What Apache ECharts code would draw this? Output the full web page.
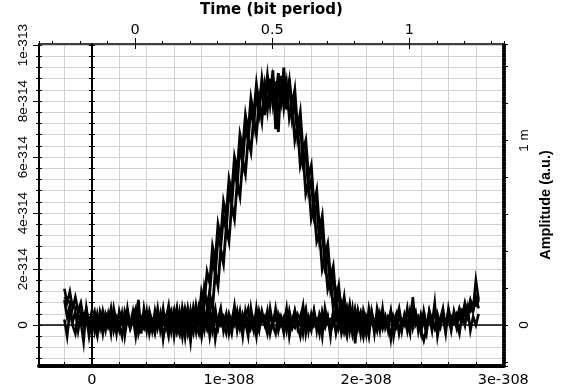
<!DOCTYPE html>
<html><head><meta charset="utf-8">
<script src="https://cdn.jsdelivr.net/npm/echarts@6/dist/echarts.min.js"></script>
<style>html,body{margin:0;padding:0;background:#fff}#c{width:561px;height:389px}</style>
</head><body><div id="c"></div>
<script>
// Sample time base (bottom axis units of 1e-308)
const baseStart = -0.2;
const pulseStart = 0.56;
const sampleStep = 0.02;

// Amplitude traces in units of 1e-314 (left axis)
const zeroTrace1 = [
 1.3,0.8,1.2,0.6,1.0,0.5,0.8,0.2,0.6,0.0,
 0.5,-0.2,0.4,-0.1,0.5,0.0,0.3,-0.3,0.6,0.1,
 -0.2,0.4,-0.4,0.3,0.0,0.5,-0.1,0.9,-0.3,0.6,
 0.0,0.3,-0.2,0.5,-0.1,0.4,-0.5,0.2,0.7,-0.1,
 0.3,-0.2,0.5,0.0,0.4,-0.3,0.2,0.6,-0.1,0.3,
 -0.4,0.4,0.1,0.6,-0.2,0.3,-0.1,0.5,0.0,-0.3,
 0.4,0.1,0.7,-0.2,0.3,-0.4,0.5,0.0,0.2,-0.2,
 0.6,-0.1,0.3,0.0,0.5,-0.3,0.2,0.4,-0.2,0.3,
 0.0,0.6,-0.4,0.2,0.5,-0.1,0.3,-0.3,0.4,0.1,
 -0.2,0.5,0.0,0.3,-0.4,0.6,0.1,-0.1,0.4,-0.3,
 0.2,0.5,-0.2,0.3,0.0,0.6,-0.3,0.2,-0.1,0.4,
 0.1,-0.4,0.5,0.0,0.3,-0.2,0.6,-0.1,0.2,-0.5,
 0.3,0.0,0.5,-0.2,0.4,0.1,-0.3,1.0,0.0,0.2,
 -0.2,-0.55,-0.1,0.5,0.0,0.8,-0.4,0.2,0.6,-0.1,
 0.3,-0.2,0.5,0.1,-0.3,0.4,0.0,0.6,-0.2,0.3,
 0.0,0.4
];
const zeroTrace2 = [
 0.2,-0.4,0.5,0.0,-0.3,0.4,0.1,-0.6,0.6,-0.1,
 0.3,0.0,-0.4,0.5,0.2,-0.2,0.4,-0.1,0.3,-0.3,
 0.5,0.1,-0.2,0.6,0.0,0.3,-0.4,0.4,0.1,-0.1,
 0.5,-0.3,0.2,0.0,0.6,-0.2,0.3,0.1,-0.4,0.4,
 0.0,0.5,-0.2,0.2,-0.1,0.6,0.0,-0.3,0.4,0.1,
 0.3,-0.2,0.5,-0.4,0.2,0.6,-0.1,0.3,0.0,0.4,
 -0.3,0.2,0.0,0.5,-0.1,0.4,0.1,-0.4,0.6,0.0,
 0.2,-0.2,0.5,0.1,-0.3,0.4,0.0,0.6,-0.1,0.2,
 -0.3,0.4,0.1,-0.1,0.5,0.0,-0.4,0.3,0.6,-0.2,
 0.4,0.0,0.2,-0.3,0.5,0.1,0.3,-0.2,0.0,0.6,
 -0.1,0.3,0.0,-0.4,0.4,0.2,-0.2,0.5,0.0,0.3,
 -0.3,0.6,0.1,0.2,-0.2,0.4,-0.1,0.3,0.0,0.5,
 -0.4,0.2,0.6,0.0,0.3,-0.2,0.5,-0.1,0.4,0.1,
 -0.3,0.5,0.0,0.3,-0.2,0.6,0.1,-0.1,0.4,0.0,
 0.5,-0.1,0.4,0.2,0.6,0.3,0.8,0.4,0.9,0.6,
 1.6,0.9
];
const zeroTrace3 = [
 0.9,0.3,0.7,0.1,0.5,-0.2,0.4,0.0,0.3,-0.4,
 0.2,0.5,-0.1,0.3,-0.3,0.4,0.1,0.6,-0.2,0.2,
 0.0,-0.4,0.5,0.2,-0.1,0.3,0.6,-0.3,0.1,0.4,
 -0.2,0.5,0.1,-0.3,0.3,0.0,0.6,-0.1,0.2,0.5,
 -0.4,0.3,0.1,-0.1,0.6,0.2,-0.6,0.4,0.0,-0.3,
 0.5,0.0,0.3,-0.1,0.4,-0.5,0.2,0.6,-0.2,0.3,
 0.1,-0.3,0.4,0.0,0.5,-0.2,0.3,0.6,-0.1,0.2,
 -0.4,0.5,0.1,0.3,-0.2,0.6,0.0,-0.3,0.4,0.1,
 0.3,-0.2,0.5,0.0,-0.1,0.4,0.2,0.7,-0.3,0.3,
 0.0,0.5,-0.2,0.4,0.1,-0.1,0.3,-0.4,0.5,0.2,
 0.4,-0.3,0.1,0.6,0.0,0.3,-0.65,0.5,0.1,-0.4,
 0.3,0.0,0.4,-0.3,0.6,0.2,-0.1,0.3,-0.2,0.5,
 0.1,0.4,-0.3,0.2,0.0,0.6,-0.1,0.3,0.5,-0.2,
 0.4,0.1,-0.3,0.5,0.2,-0.1,0.4,0.0,0.3,-0.3,
 0.6,0.1,0.3,-0.1,0.5,0.2,0.7,0.3,0.8,0.5,
 1.0,0.6
];
const zeroTrace4 = [
 1.0,0.9,0.8,0.7,0.6,0.55,0.45,0.4,0.3,0.25,
 0.2,0.3,0.0,0.25,0.1,0.35,-0.05,0.2,0.15,0.3,
 0.0,0.25,0.1,0.35,-0.1,0.2,0.3,0.05,0.25,-0.05,
 0.3,0.1,0.2,0.0,0.35,0.15,0.05,0.3,-0.1,0.2,
 0.25,0.0,0.3,0.1,0.2,-0.05,0.35,0.15,0.0,0.25,
 0.1,0.3,-0.1,0.2,0.05,0.35,0.15,0.0,0.3,0.1,
 0.2,-0.05,0.3,0.1,0.25,0.0,0.35,0.1,0.2,0.05,
 0.3,0.0,0.25,0.15,-0.1,0.3,0.1,0.2,0.35,0.0,
 0.2,0.1,0.3,-0.05,0.25,0.15,0.0,0.3,0.1,0.2,
 0.35,0.0,0.15,0.25,-0.1,0.3,0.1,0.2,0.05,0.3,
 0.0,0.25,0.15,0.35,-0.05,0.2,0.1,0.3,0.0,0.2,
 0.3,0.05,0.25,-0.1,0.2,0.35,0.1,0.0,0.3,0.15,
 0.2,-0.05,0.3,0.1,0.25,0.0,0.35,0.15,0.05,0.3,
 0.1,0.2,0.0,0.3,0.15,-0.1,0.25,0.1,0.35,0.05,
 0.2,0.3,0.1,0.4,0.25,0.5,0.35,0.6,0.5,0.75,
 0.7,0.9
];
const oneTrace1 = [
 0.5,-0.2,0.4,0.0,-0.3,0.6,0.1,-0.2,0.5,-0.1,
 0.7,0.2,1.2,0.8,1.9,1.5,2.8,2.3,3.6,3.1,
 4.4,3.9,5.2,4.7,6.0,5.5,6.8,6.3,7.5,6.9,
 8.1,7.5,8.6,7.8,8.8,8.0,8.9,7.9,8.8,8.1,
 9.0,7.8,8.7,8.0,8.7,7.4,8.0,6.7,7.2,5.8,
 6.2,4.8,5.2,3.9,4.3,3.0,3.4,2.1,2.5,1.3,
 1.8,0.7,1.2,0.2,0.8,-0.1,0.6,-0.2,0.5,0.0,
 0.4,-0.3,0.3
];
const oneTrace2 = [
 -0.3,0.4,0.1,0.6,-0.2,0.3,-0.4,0.5,0.0,0.4,
 -0.2,0.6,0.1,1.3,0.7,1.2,2.4,1.8,3.1,2.8,
 3.9,3.4,4.8,4.3,5.6,5.0,6.4,5.8,7.1,6.6,
 7.8,7.1,8.3,7.6,8.7,7.5,8.9,8.1,9.1,7.0,
 8.6,8.0,9.2,7.7,8.8,7.8,8.4,7.0,7.6,6.2,
 6.6,5.3,5.7,4.3,4.8,3.4,3.9,2.5,2.9,1.7,
 2.1,0.9,1.4,0.4,1.0,0.1,0.7,-0.2,0.5,-0.1,
 0.4,0.0,-0.3
];
const oneTrace3 = [
 0.3,0.0,0.5,-0.2,0.2,-0.4,0.4,0.1,-0.1,0.6,
 0.0,0.3,-0.3,0.5,0.0,1.1,0.6,1.9,1.4,2.7,
 2.2,3.5,3.0,4.3,3.8,5.1,4.6,5.9,5.4,6.7,
 6.2,7.4,6.8,8.0,7.3,8.5,7.7,8.8,7.9,8.7,
 6.9,8.9,7.8,8.6,7.4,7.9,6.6,7.1,5.7,6.1,
 4.7,5.1,3.8,4.2,3.0,3.3,2.0,2.4,1.3,1.7,
 0.6,1.1,0.2,0.7,-0.1,0.5,-0.2,0.4,0.0,0.3,
 -0.3,0.5,0.1
];

// Tick labels
const bottomTickValues = [0, 1, 2, 3];
const bottomTickLabels = ['0', '1e-308', '2e-308', '3e-308'];
const topTickValues = [0, 0.5, 1];
const topTickLabels = ['0', '0.5', '1'];
const leftTickValues = [0, 2, 4, 6, 8, 10];
const leftTickLabels = ['0', '2e-314', '4e-314', '6e-314', '8e-314', '1e-313'];
const rightTickValues = [0, 1];
const rightTickLabels = ['0', '1 m'];

// Axis ranges
const xRange = [-0.385, 3.005];     // 1e-308
const tRange = [-0.35, 1.345];      // bit period
const yRange = [-1.46, 10.04];      // 1e-314
const rRange = [-0.222, 1.523];     // m (a.u.)
const leftMinorStep = 0.4;

function stepsWithin(range, step) {
  const out = [];
  for (let k = Math.ceil(range[0] / step - 1e-9); k * step <= range[1] + 1e-9; k++) {
    out.push(Math.round(k * step * 10000) / 10000);
  }
  return out;
}
const leftMinorTicks = stepsWithin(yRange, leftMinorStep);

function toPairs(arr, start) {
  return arr.map((v, i) => [Math.round((start + i * sampleStep) * 1000) / 1000, v]);
}
function lookup(values, labels) {
  return function (v) { const i = values.indexOf(v); return i >= 0 ? labels[i] : ''; };
}

const H_FONT = 'DejaVu Sans';
const V_FONT = 'Liberation Sans';
const GRID_COLOR = '#d2d2d2';
const off = { show: false };

function helper(base, extra) {
  return Object.assign({
    axisLine: off, axisLabel: off, splitLine: off, axisTick: off, minorTick: off, silent: true
  }, base, extra);
}

const xBase = { type: 'value', min: xRange[0], max: xRange[1], gridIndex: 0 };
const tBase = { type: 'value', min: tRange[0], max: tRange[1], gridIndex: 0 };
const yBase = { type: 'value', min: yRange[0], max: yRange[1], gridIndex: 0 };
const rBase = { type: 'value', min: rRange[0], max: rRange[1], gridIndex: 0 };

const xAxes = [
  // bottom ruler (dense fine ticks drawn as a dashed thick line)
  helper(xBase, { position: 'bottom',
    axisLine: { show: true, onZero: false, lineStyle: { color: '#000', width: 4, type: [1, 1.74] } } }),
  // bottom main axis
  Object.assign({}, xBase, {
    position: 'bottom', splitNumber: 17,
    axisLine: { show: true, onZero: false, lineStyle: { color: '#000', width: 2 } },
    axisTick: { show: true, inside: true, length: 4, lineStyle: { color: '#000', width: 1 } },
    splitLine: { show: true, lineStyle: { color: GRID_COLOR, width: 1 } },
    axisLabel: { show: true, customValues: bottomTickValues, formatter: lookup(bottomTickValues, bottomTickLabels),
      fontFamily: H_FONT, fontSize: 14.5, color: '#000', margin: 7 }
  }),
  // top main axis (bit period)
  Object.assign({}, tBase, {
    position: 'top', splitNumber: 17,
    name: 'Time (bit period)', nameLocation: 'middle', nameGap: 21,
    nameTextStyle: { fontFamily: H_FONT, fontWeight: 'bold', fontSize: 15, color: '#000' },
    axisLine: { show: true, onZero: false, lineStyle: { color: '#000', width: 1.5 } },
    axisTick: { show: true, length: 3, lineStyle: { color: '#000', width: 1 } },
    splitLine: off,
    axisLabel: { show: true, customValues: topTickValues, formatter: lookup(topTickValues, topTickLabels),
      fontFamily: H_FONT, fontSize: 14.5, color: '#000', margin: 6 }
  }),
  helper(tBase, { position: 'top', axisLine: { show: false, onZero: false },
    axisTick: { show: true, inside: true, length: 5, customValues: topTickValues, lineStyle: { color: '#000', width: 1 } } }),
  helper(tBase, { position: 'top', axisLine: { show: false, onZero: false },
    axisTick: { show: true, length: 6, customValues: topTickValues, lineStyle: { color: '#000', width: 1 } } }),
  // horizontal zero line
  helper(xBase, { position: 'bottom',
    axisLine: { show: true, onZero: true, onZeroAxisIndex: 1, lineStyle: { color: '#000', width: 1.5 } } })
];

const yAxes = [
  // left main
  Object.assign({}, yBase, {
    position: 'left',
    axisLine: { show: true, onZero: false, lineStyle: { color: '#000', width: 2 } },
    axisTick: { show: true, length: 6, customValues: leftTickValues, lineStyle: { color: '#000', width: 1 } },
    splitLine: off,
    axisLabel: { show: true, customValues: leftTickValues, formatter: lookup(leftTickValues, leftTickLabels),
      rotate: 90, fontFamily: V_FONT, fontSize: 13.5, color: '#000', margin: 9 }
  }),
  helper(yBase, { position: 'left', axisLine: { show: false, onZero: false },
    axisTick: { show: true, inside: true, length: 3, customValues: leftMinorTicks, lineStyle: { color: '#000', width: 1 } },
    splitLine: { show: true, lineStyle: { color: GRID_COLOR, width: 1 } } }),
  helper(yBase, { position: 'left', axisLine: { show: false, onZero: false },
    axisTick: { show: true, length: 3, customValues: leftMinorTicks, lineStyle: { color: '#000', width: 1 } } }),
  // vertical zero line, ticks on both sides
  helper(yBase, { position: 'left',
    axisLine: { show: true, onZero: true, onZeroAxisIndex: 1, lineStyle: { color: '#000', width: 2 } },
    axisTick: { show: true, length: 3, customValues: leftMinorTicks, lineStyle: { color: '#000', width: 1 } } }),
  helper(yBase, { position: 'left',
    axisLine: { show: false, onZero: true, onZeroAxisIndex: 1 },
    axisTick: { show: true, inside: true, length: 3, customValues: leftMinorTicks, lineStyle: { color: '#000', width: 1 } } }),
  // right ruler (dense fine ticks drawn as a dashed thick line)
  helper(rBase, { position: 'right',
    axisLine: { show: true, onZero: false, lineStyle: { color: '#000', width: 4, type: [1, 1.6] } } }),
  // right amplitude axis
  Object.assign({}, rBase, {
    position: 'right', splitNumber: 9,
    name: 'Amplitude (a.u.)', nameLocation: 'middle', nameGap: 34,
    nameTextStyle: { fontFamily: V_FONT, fontWeight: 'bold', fontSize: 14.5, color: '#000' },
    axisLine: { show: true, onZero: false, lineStyle: { color: '#000', width: 1.5 } },
    axisTick: { show: true, length: 4, lineStyle: { color: '#000', width: 1 } },
    splitLine: off,
    axisLabel: { show: true, customValues: rightTickValues, formatter: lookup(rightTickValues, rightTickLabels),
      rotate: 90, fontFamily: V_FONT, fontSize: 13.5, color: '#000', margin: 13 }
  })
];

function lineSeries(data, width) {
  return {
    type: 'line', data: data, xAxisIndex: 1, yAxisIndex: 0,
    showSymbol: false, symbol: 'none', silent: true, animation: false, z: 3,
    lineStyle: { color: '#000', width: width, join: 'miter' }
  };
}

const series = [];
[zeroTrace1, zeroTrace2, zeroTrace3].forEach(t => series.push(lineSeries(toPairs(t, baseStart), 2.6)));
series.push(lineSeries(toPairs(zeroTrace4, baseStart), 3));
[oneTrace1, oneTrace2, oneTrace3].forEach(t => series.push(lineSeries(toPairs(t, pulseStart), 2.8)));

const chart = echarts.init(document.getElementById('c'), null, { renderer: 'canvas' });
chart.setOption({
  backgroundColor: '#fff',
  animation: false,
  grid: { left: 39, right: 57, top: 44, bottom: 23, containLabel: false, outerBoundsMode: 'none' },
  xAxis: xAxes,
  yAxis: yAxes,
  series: series
});
</script>
</body></html>
